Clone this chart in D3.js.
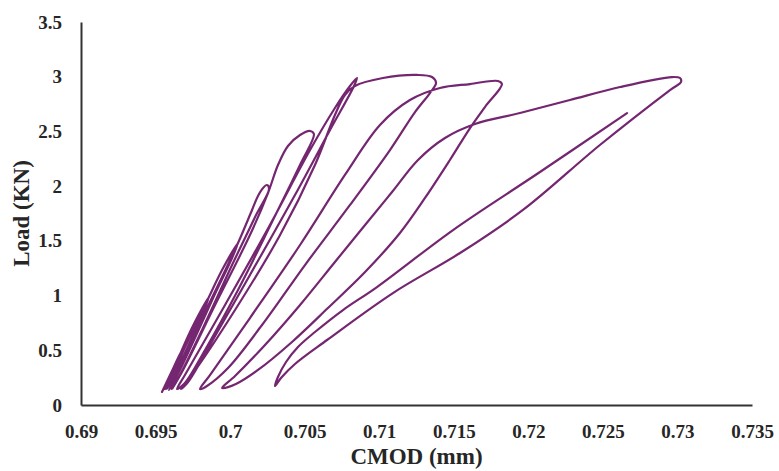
<!DOCTYPE html>
<html>
<head>
<meta charset="utf-8">
<script src="https://cdn.jsdelivr.net/npm/d3@7"></script>
<style>
    body { margin: 0; background: #fff; }
    .tick text { font-family: "Liberation Serif", "Times New Roman", serif; font-weight: bold; fill: #262626; }
    .axis-title { font-family: "Liberation Serif", "Times New Roman", serif; font-weight: bold; fill: #262626; }
</style>
</head>
<body>
<div id="chart"></div>
<script>
// tick values for both axes
let xTicks = [0.69, 0.695, 0.7, 0.705, 0.71, 0.715, 0.72, 0.725, 0.73, 0.735]
let yTicks = [0, 0.5, 1, 1.5, 2, 2.5, 3, 3.5]

// the loading / unloading path
// (small cycles first, then the 2.0, 2.5, 3.0 cycles and the post-peak loops)
let cmod = [
    0.69543, 0.69610, 0.69677, 0.69650, 0.69597, 0.69563,
    0.69583, 0.69624, 0.69677, 0.69764, 0.69858, 0.69825, 0.69731, 0.69637, 0.69577,
    0.69604, 0.69677, 0.69771, 0.69858, 0.69946, 0.70053, 0.70013, 0.69892, 0.69764, 0.69650, 0.69590,
    0.69630, 0.69731, 0.69852, 0.69946, 0.70053, 0.70147, 0.70187, 0.70221, 0.70247, 0.70261, 0.70174, 0.70013, 0.69818, 0.69671, 0.69610,
    0.69677, 0.69899, 0.70133, 0.70254, 0.70321, 0.70388, 0.70469, 0.70536, 0.70562, 0.70475, 0.70281, 0.70053, 0.69832, 0.69697, 0.69644,
    0.69697, 0.69966, 0.70267, 0.70536, 0.70703, 0.70804, 0.70851, 0.70831, 0.70670, 0.70435, 0.70133, 0.69865, 0.69718, 0.69671,
    0.69744, 0.70033, 0.70335, 0.70569, 0.70703, 0.70770, 0.70837, 0.71025, 0.71253, 0.71354,
    0.71381, 0.71340, 0.71240, 0.71072, 0.70804, 0.70502, 0.70214, 0.69986, 0.69845, 0.69798,
    0.69865, 0.70133, 0.70469, 0.70770, 0.71005, 0.71206, 0.71407, 0.71609, 0.71796, 0.71823,
    0.71709, 0.71609, 0.71474, 0.71307, 0.71139, 0.70905, 0.70656, 0.70415, 0.70187, 0.70039, 0.69946,
    0.70033, 0.70234, 0.70469, 0.70703, 0.70905, 0.71086, 0.71260, 0.71441, 0.71642, 0.71944,
    0.72279, 0.72615, 0.72963, 0.73017, 0.73024,
    0.72950, 0.72480, 0.71964, 0.71542, 0.71092, 0.70650, 0.70435, 0.70341, 0.70301,
    0.70321, 0.70375, 0.70455, 0.70569, 0.70757, 0.70985, 0.71495, 0.72078, 0.72662
]
let load = [
    0.119, 0.311, 0.503, 0.384, 0.247, 0.146,
    0.201, 0.320, 0.503, 0.758, 0.987, 0.868, 0.576, 0.302, 0.146,
    0.228, 0.466, 0.740, 0.987, 1.234, 1.480, 1.343, 0.996, 0.612, 0.283, 0.137,
    0.247, 0.539, 0.905, 1.170, 1.480, 1.782, 1.910, 1.983, 2.010, 1.974, 1.736, 1.279, 0.704, 0.292, 0.146,
    0.302, 0.914, 1.553, 1.937, 2.193, 2.367, 2.467, 2.504, 2.476, 2.211, 1.672, 1.051, 0.503, 0.201, 0.146,
    0.274, 0.914, 1.645, 2.330, 2.714, 2.915, 2.988, 2.915, 2.513, 1.919, 1.188, 0.548, 0.210, 0.146,
    0.274, 0.868, 1.553, 2.193, 2.650, 2.833, 2.915, 2.988, 3.016, 2.997,
    2.942, 2.851, 2.677, 2.330, 1.828, 1.279, 0.731, 0.338, 0.174, 0.146,
    0.274, 0.795, 1.462, 2.102, 2.559, 2.787, 2.897, 2.933, 2.961, 2.933,
    2.723, 2.531, 2.239, 1.892, 1.572, 1.215, 0.886, 0.576, 0.320, 0.192, 0.155,
    0.265, 0.548, 0.914, 1.307, 1.645, 1.946, 2.239, 2.440, 2.568, 2.668,
    2.787, 2.906, 2.997, 2.988, 2.952,
    2.878, 2.376, 1.782, 1.389, 1.023, 0.594, 0.375, 0.247, 0.174,
    0.256, 0.393, 0.530, 0.667, 0.868, 1.078, 1.599, 2.129, 2.668
]

let width = 779, height = 471
let margin = {top: 22, right: 27, bottom: 66, left: 81}

let svg = d3.select('#chart').append('svg')
    .attr('width', width)
    .attr('height', height)

let x = d3.scaleLinear().domain([0.69, 0.735]).range([margin.left, width - margin.right])
let y = d3.scaleLinear().domain([0, 3.5]).range([height - margin.bottom, margin.top])

// axes: only the axis lines and labels, no tick marks
let xAxis = d3.axisBottom(x).tickValues(xTicks).tickSize(0).tickPadding(20)
    .tickFormat(d => d3.format('')(+d.toFixed(3)))
let yAxis = d3.axisLeft(y).tickValues(yTicks).tickSize(0).tickPadding(19)
    .tickFormat(d => d3.format('')(d))

svg.append('g')
    .attr('transform', `translate(0,${height - margin.bottom})`)
    .call(xAxis)
svg.append('g')
    .attr('transform', `translate(${margin.left},0)`)
    .call(yAxis)

svg.selectAll('.domain').attr('stroke', '#333').attr('stroke-width', 2)
svg.selectAll('.tick text').style('font-size', '19px')

// the curve
let pts = cmod.map((c, i) => [c, load[i]])
let line = d3.line()
    .x(d => x(d[0]))
    .y(d => y(d[1]))
    .curve(d3.curveCatmullRom.alpha(0.5))

svg.append('path')
    .datum(pts)
    .attr('d', line)
    .attr('fill', 'none')
    .attr('stroke', '#742670')
    .attr('stroke-width', 2.2)
    .attr('stroke-linejoin', 'round')
    .attr('stroke-linecap', 'round')

// axis titles
svg.append('text')
    .attr('class', 'axis-title')
    .attr('x', (margin.left + width - margin.right) / 2)
    .attr('y', 464)
    .attr('text-anchor', 'middle')
    .style('font-size', '23px')
    .text('CMOD (mm)')

svg.append('text')
    .attr('class', 'axis-title')
    .attr('transform', `translate(29,${(margin.top + height - margin.bottom) / 2}) rotate(-90)`)
    .attr('text-anchor', 'middle')
    .style('font-size', '23px')
    .text('Load (KN)')
</script>
</body>
</html>
